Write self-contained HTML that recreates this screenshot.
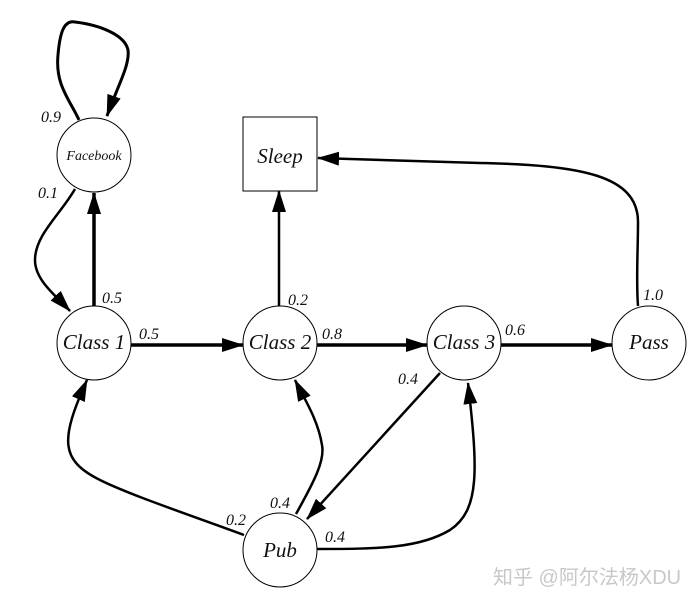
<!DOCTYPE html>
<html><head><meta charset="utf-8"><style>
html,body{margin:0;padding:0;background:#fff;}
svg{display:block}
</style></head><body>
<svg width="699" height="606" viewBox="0 0 699 606" xmlns="http://www.w3.org/2000/svg">
<defs>
<marker id="b" markerWidth="22" markerHeight="14" refX="21" refY="7" orient="auto" markerUnits="userSpaceOnUse" viewBox="0 0 22 14">
<path d="M0,0 L22,7 L0,14 z" fill="#000"/>
</marker>
</defs>
<g fill="#fff" stroke="#000" stroke-width="1">
<circle cx="94" cy="155" r="37"/>
<circle cx="94" cy="343" r="37"/>
<circle cx="280" cy="343" r="37"/>
<circle cx="464" cy="343" r="37"/>
<circle cx="649" cy="343" r="37"/>
<circle cx="280" cy="550" r="37"/>
<rect x="243" y="117" width="74" height="74"/>
</g>
<g fill="none" stroke="#000" stroke-width="3" marker-end="url(#b)">
<path d="M79,120 C70,100 55,85 58,55 C60,30 65,20 75,22 C100,25 125,35 128,50 C130,65 118,85 107,116"/>
<path d="M75,189 C60,215 35,235 35,260 C35,280 55,295 70,311" stroke-width="2.5"/>
<path d="M94,306 L94,193" stroke-width="3.5"/>
<path d="M131,345 L243,345" stroke-width="3.5"/>
<path d="M279,306 L279,191" stroke-width="2.5"/>
<path d="M317,345 L427,345" stroke-width="3.5"/>
<path d="M501,345 L612,345" stroke-width="3.5"/>
<path d="M638,306 C636,280 638,250 638,222 C638,175 580,165 480,163 L318,158" stroke-width="2.5"/>
<path d="M440,373 L307,519" stroke-width="2.5"/>
<path d="M244,535 C190,515 130,495 100,480 C60,460 60,440 87,380" stroke-width="2.5"/>
<path d="M296,514 C315,480 325,460 322,445 C318,420 305,400 295,380" stroke-width="2.5"/>
<path d="M317,549 C380,549 420,548 450,530 C480,510 478,470 468,383" stroke-width="2.5"/>
</g>
<g font-family="Liberation Serif, DejaVu Serif, serif" font-style="italic" fill="#111">
<text x="94" y="160" text-anchor="middle" font-size="14">Facebook</text>
<text x="280" y="163" text-anchor="middle" font-size="21">Sleep</text>
<text x="94" y="349" text-anchor="middle" font-size="21">Class 1</text>
<text x="280" y="349" text-anchor="middle" font-size="21">Class 2</text>
<text x="464" y="349" text-anchor="middle" font-size="21">Class 3</text>
<text x="649" y="349" text-anchor="middle" font-size="21">Pass</text>
<text x="280" y="557" text-anchor="middle" font-size="21">Pub</text>
<g font-size="16">
<text x="41" y="122">0.9</text>
<text x="38" y="198">0.1</text>
<text x="102" y="303">0.5</text>
<text x="139" y="339">0.5</text>
<text x="288" y="305">0.2</text>
<text x="322" y="339">0.8</text>
<text x="505" y="335">0.6</text>
<text x="643" y="300">1.0</text>
<text x="398" y="384">0.4</text>
<text x="226" y="525">0.2</text>
<text x="270" y="508">0.4</text>
<text x="325" y="542">0.4</text>
</g>
</g>
<text x="493" y="584" font-family="Liberation Sans, Noto Sans CJK SC, sans-serif" font-size="20" fill="#c8c8c8">知乎 @阿尔法杨XDU</text>
</svg>
</body></html>
